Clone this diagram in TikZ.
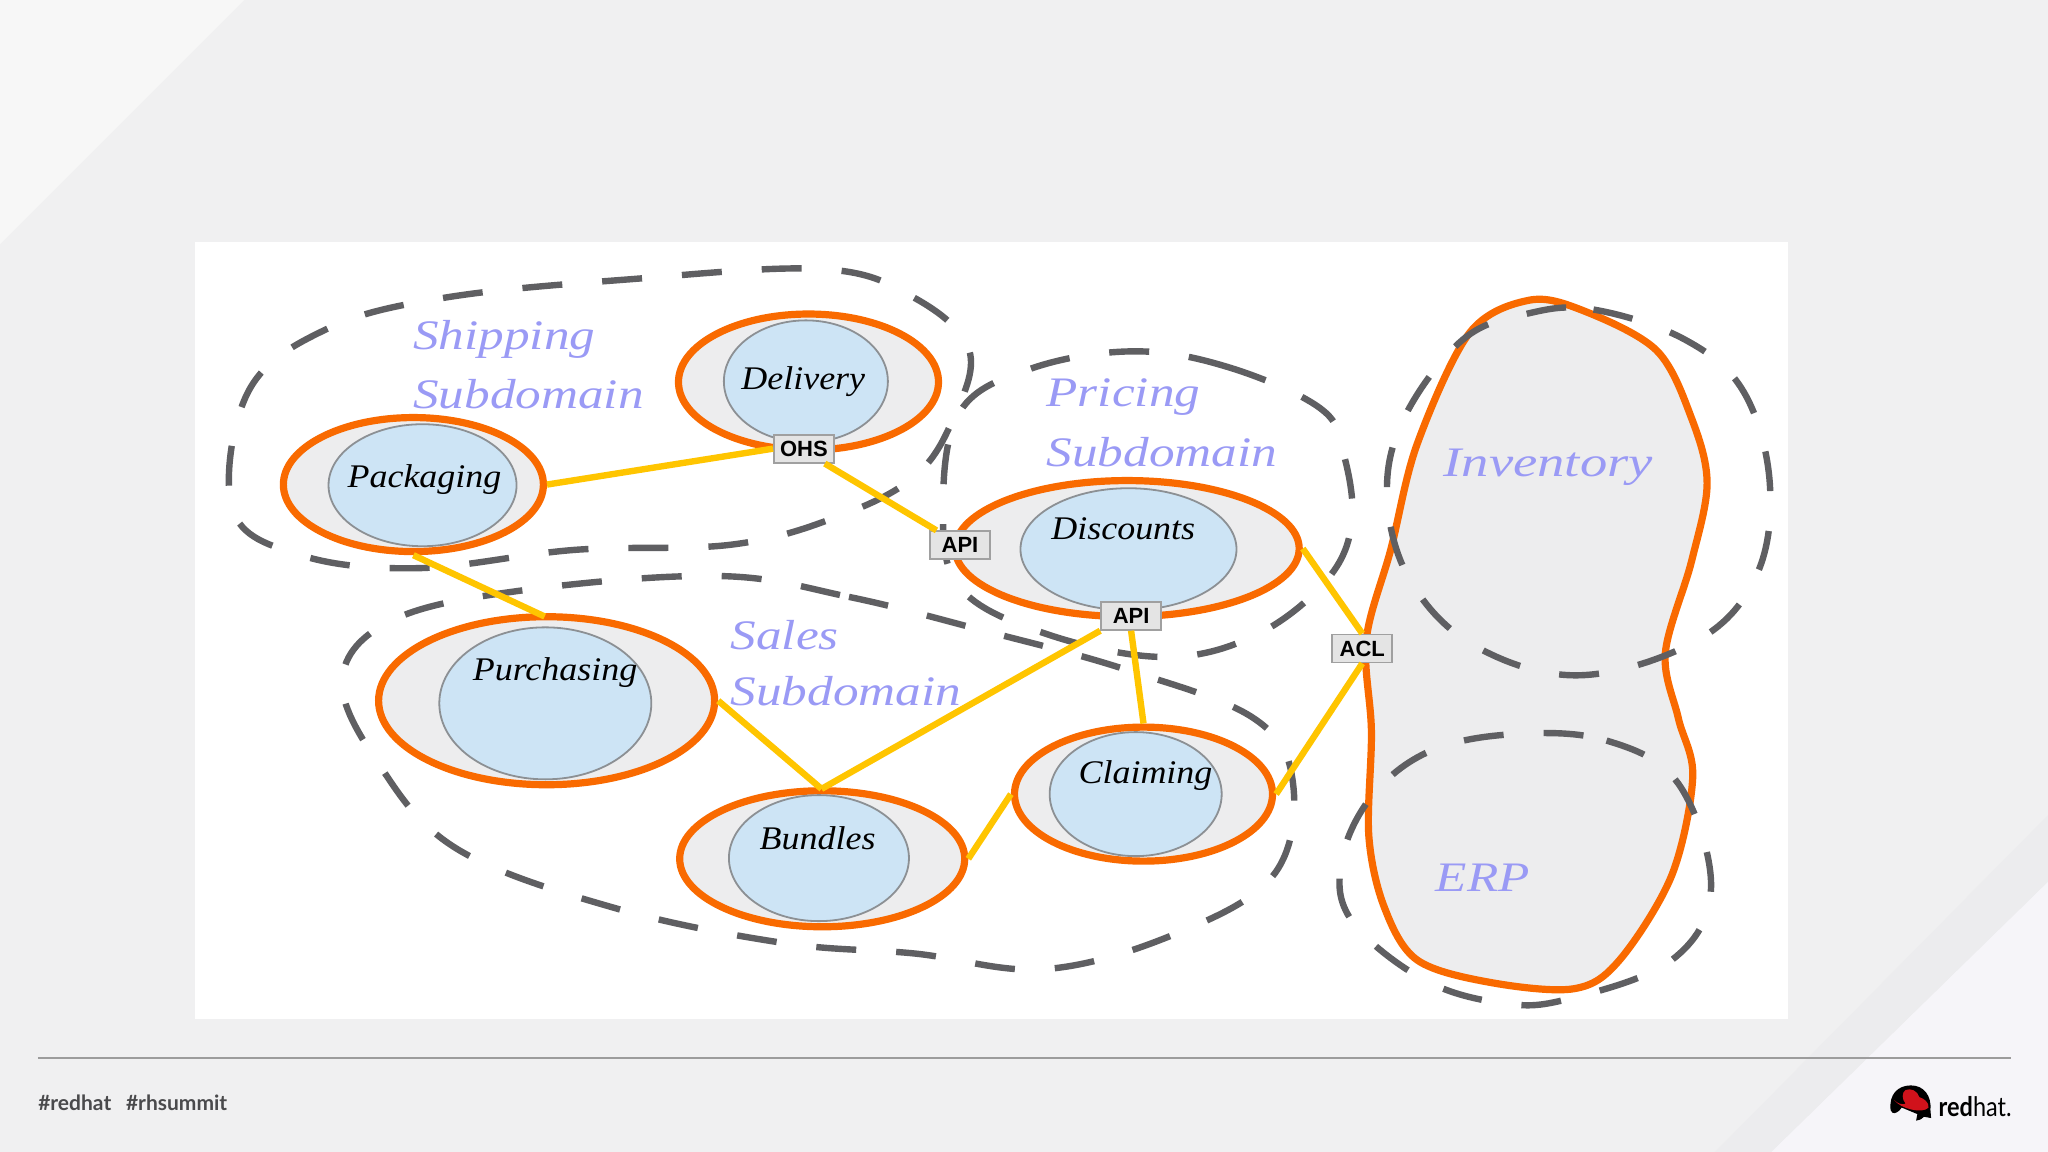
\documentclass[tikz,border=0pt]{standalone}
\usepackage{fontspec}
\setmainfont{Lato}
\newfontfamily\handfont{Liberation Serif}[FakeStretch=1.09]
\newfontfamily\subfont{Liberation Serif}[FakeStretch=1.22]
\newfontfamily\invfont{Liberation Serif}[FakeStretch=1.3]
\newfontfamily\boxfont{Liberation Sans}
\newfontfamily\logofont{Lato}[FakeStretch=0.87]
\usetikzlibrary{calc,shapes.geometric}
\definecolor{bgc}{HTML}{F0F0F1}
\definecolor{bglt}{HTML}{F7F7F7}
\definecolor{bgband}{HTML}{ECECEE}
\definecolor{bgcorner}{HTML}{F6F5F9}
\definecolor{ringo}{HTML}{F96A00}
\definecolor{fillg}{HTML}{EDEDEE}
\definecolor{innerb}{HTML}{CDE4F5}
\definecolor{innerl}{HTML}{8C9094}
\definecolor{linky}{HTML}{FFC500}
\definecolor{dashg}{HTML}{5F5F62}
\definecolor{lilac}{HTML}{9A9AF5}
\definecolor{boxf}{HTML}{E4E4E4}
\definecolor{boxl}{HTML}{A0A0A0}
\definecolor{rulec}{HTML}{9C9C9C}
\definecolor{foot}{HTML}{4A4A4C}
\definecolor{hatred}{HTML}{D0121B}
\tikzset{
  x=0.653pt,y=-0.653pt,
  zone/.style={draw=dashg,line width=3.2pt,dash pattern=on 20pt off 20pt,line join=round},
  ctx/.style={ellipse,draw=ringo,line width=3.6pt,fill=fillg,inner sep=0pt},
  core/.style={ellipse,draw=innerl,line width=0.9pt,fill=innerb,inner sep=0pt},
  lnk/.style={draw=linky,line width=3.2pt},
  tag/.style={draw=boxl,line width=0.9pt,fill=boxf,font=\boxfont\bfseries\fontsize{11}{11}\selectfont,minimum width=30pt,minimum height=14pt,inner sep=0pt},
  subdom/.style={text=lilac,font=\subfont\itshape\fontsize{21}{21}\selectfont,anchor=west,inner sep=0pt},
  cname/.style={text=black,font=\handfont\itshape\fontsize{16.5}{16.5}\selectfont},
}
\begin{document}
\begin{tikzpicture}
\useasboundingbox (0,0) rectangle (1568,882);
\fill[bgc] (0,0) rectangle (1568,882);
\fill[bglt] (0,0) -- (187,0) -- (0,187) -- cycle;
\fill[bgcorner] (1568,675) -- (1568,882) -- (1356,882) -- cycle;
\fill[bgband] (1568,624) -- (1568,675) -- (1356,882) -- (1313,882) -- cycle;
\fill[white] (149,185) rectangle (1369,780);

% zones
\draw[zone] plot[smooth cycle,tension=0.62] coordinates {(630,206) (700,228) (742,268) (730,320) (700,365) (640,396) (560,417) (440,421) (320,435) (230,425) (178,390) (190,300) (250,252) (340,228) (480,214)};
\draw[zone] plot[smooth cycle,tension=0.62] coordinates {(868,269) (940,281) (1010,312) (1028,345) (1035,400) (1015,445) (960,487) (890,503) (800,485) (735,450) (722,390) (735,315) (790,282)};
\draw[zone] plot[smooth cycle,tension=0.62] coordinates {(550,441) (650,457) (750,482) (860,512) (960,550) (990,600) (975,670) (900,715) (800,742) (700,730) (600,722) (470,695) (350,650) (290,585) (262,520) (300,475) (400,452)};

% blob
\draw[draw=ringo,line width=3.6pt,fill=fillg] plot[smooth cycle,tension=0.55] coordinates {(1170,230) (1210,237) (1268,268) (1295,320) (1307,370) (1295,430) (1275,500) (1285,550) (1296,595) (1280,670) (1240,735) (1205,757) (1140,752) (1085,735) (1060,695) (1048,640) (1050,560) (1046,490) (1065,420) (1085,340) (1125,255)};
\draw[zone] plot[smooth cycle,tension=0.62] coordinates {(1170,240) (1220,237) (1290,260) (1335,300) (1355,370) (1345,440) (1300,490) (1210,517) (1130,495) (1080,445) (1062,380) (1075,320) (1120,260)};
\draw[zone] plot[smooth cycle,tension=0.62] coordinates {(1160,562) (1230,567) (1285,600) (1310,680) (1280,735) (1200,765) (1150,768) (1090,750) (1035,705) (1027,660) (1050,610) (1095,575)};

% contexts
\node[ctx,minimum width=130pt,minimum height=67pt] (packO) at (316.5,371) {};
\node[core,minimum width=94pt,minimum height=61pt] (pack) at (323.5,371.5) {};
\node[ctx,minimum width=130pt,minimum height=68pt] (delO) at (619,292.5) {};
\node[core,minimum width=82pt,minimum height=61pt] (del) at (617,292) {};
\node[ctx,minimum width=172pt,minimum height=68pt] (discO) at (863,420) {};
\node[core,minimum width=108pt,minimum height=61pt] (disc) at (864,420.5) {};
\node[ctx,minimum width=168pt,minimum height=84pt] (purO) at (418.5,536.5) {};
\node[core,minimum width=106pt,minimum height=76pt] (pur) at (417.5,538.5) {};
\node[ctx,minimum width=142.5pt,minimum height=68pt] (bunO) at (629.5,657.5) {};
\node[core,minimum width=90pt,minimum height=63pt] (bun) at (627,657) {};
\node[ctx,minimum width=129pt,minimum height=67pt] (claO) at (875.5,608) {};
\node[core,minimum width=86pt,minimum height=62pt] (cla) at (869.5,608) {};

% tags
\node[tag] (ohs) at (615.5,343.5) {OHS};
\node[tag] (api1) at (735,417.5) {API};
\node[tag] (api2) at (866,471.5) {API};
\node[tag] (acl) at (1043,496.5) {ACL};

% links
\coordinate (bunT) at (629,604);
\coordinate (purT) at (417,472);
\draw[lnk] (packO.east) -- (ohs.west);
\draw[lnk] ($(ohs.south)+(16,0)$) -- ($(api1.north)+(-18,0)$);
\draw[lnk] (packO.south) -- (purT);
\draw[lnk] (purO.east) -- (bunT);
\draw[lnk] (bunT) -- (api2.south west);
\draw[lnk] (api2.south) -- (claO.north);
\draw[lnk] (bunO.east) -- (claO.west);
\draw[lnk] (discO.east) -- (acl.north);
\draw[lnk] (claO.east) -- (acl.south);

% labels
\node[cname] (lpack) at (325,367) {Packaging};
\node[cname] (ldel) at (615,292) {Delivery};
\node[cname] (ldisc) at (860,405) {Discounts};
\node[cname] (lpur) at (425,515) {Purchasing};
\node[cname] (lbun) at (626,642) {Bundles};
\node[cname] (lcla) at (877,594) {Claiming};

\node[subdom] (s1) at (316,260) {Shipping};
\node[subdom] (s2) at (316,302) {Subdomain};
\node[subdom] (p1) at (801,304) {Pricing};
\node[subdom] (p2) at (801,346) {Subdomain};
\node[subdom] (sa1) at (559,486) {Sales};
\node[subdom] (sa2) at (559,529) {Subdomain};
\node[subdom,font=\invfont\itshape\fontsize{21}{21}\selectfont] (inv) at (1105,358) {Inventory};
\node[subdom] (erp) at (1099,672) {ERP};

% footer
\coordinate (ra) at (29,810);
\coordinate (rb) at (1540,810);
\draw[rulec,line width=0.6pt] (ra) -- (rb);
\node[anchor=west,text=foot,font=\bfseries\fontsize{10.5}{10.5}\selectfont,inner sep=0pt] (tagline) at (29,844) {\#redhat\hspace{0.7em}\#rhsummit};

% logo
\fill[black] (1447.5,850) .. controls (1446,838) and (1453,831) .. (1463,831) .. controls (1473,831) and (1479,839) .. (1478,850) -- (1478.5,856) -- (1473,855) .. controls (1471,857) and (1469,858) .. (1467,858) -- (1468,853) -- (1456,848) .. controls (1454,851) and (1451,853) .. (1449,852) -- cycle;
\fill[hatred] (1450,842) .. controls (1453,845) and (1456,846) .. (1459,845) .. controls (1456,842) and (1456,836) .. (1459,834.5) .. controls (1463,833) and (1468,835) .. (1469.5,840) .. controls (1473,841) and (1477,844) .. (1476.5,848) .. controls (1472,853) and (1455,849) .. (1450,842) -- cycle;
\node[anchor=west,text=black,inner sep=0pt,font=\logofont\fontsize{13.5}{13.5}\selectfont] (rh) at (1484,847) {\textbf{red}hat.};
\end{tikzpicture}
\end{document}
